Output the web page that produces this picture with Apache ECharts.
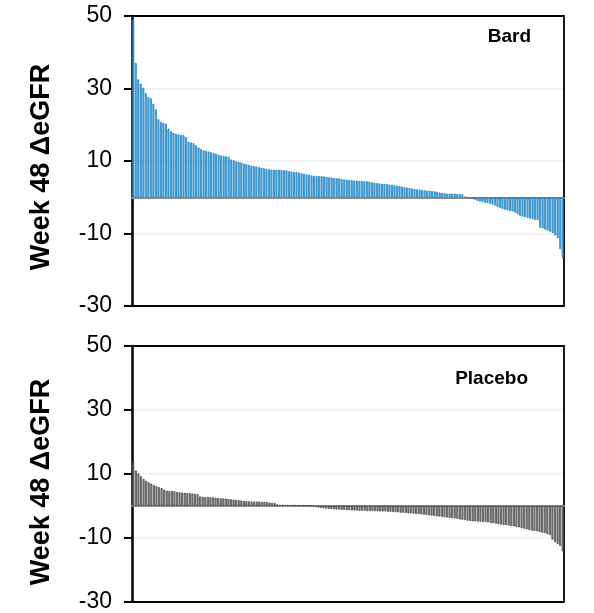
<!DOCTYPE html>
<html>
<head>
<meta charset="utf-8">
<script src="https://cdn.jsdelivr.net/npm/echarts@6/dist/echarts.min.js"></script>
<style>
  html, body { margin: 0; padding: 0; background: #fff; }
  #chart { width: 594px; height: 613px; }
</style>
</head>
<body>
<div id="chart"></div>
<script>
// Week 48 change in eGFR per patient, sorted from largest gain to largest loss
const bardValues = [
  49.0, 37.0, 32.5, 31.3, 30.2, 28.7, 27.6, 27.3, 25.8, 24.2,
  21.5, 20.8, 20.5, 20.2, 18.9, 18.2, 17.8, 17.5, 17.3, 17.2,
  17.1, 16.6, 15.3, 15.1, 14.9, 14.3, 13.7, 13.3, 12.9, 12.8,
  12.6, 12.4, 12.2, 12.0, 11.7, 11.5, 11.4, 11.3, 11.1, 10.4,
  10.2, 9.9, 9.7, 9.6, 9.3, 9.1, 8.9, 8.7, 8.6, 8.5,
  8.3, 8.1, 8.0, 7.8, 7.7, 7.6, 7.6, 7.6, 7.6, 7.5,
  7.5, 7.4, 7.2, 7.1, 7.0, 6.9, 6.8, 6.6, 6.5, 6.3,
  6.2, 6.0, 5.9, 5.9, 5.8, 5.8, 5.7, 5.6, 5.5, 5.4,
  5.3, 5.2, 5.2, 5.0, 4.9, 4.8, 4.7, 4.7, 4.6, 4.6,
  4.5, 4.5, 4.4, 4.4, 4.3, 4.1, 4.0, 3.9, 3.8, 3.7,
  3.7, 3.6, 3.5, 3.4, 3.3, 3.2, 3.1, 2.9, 2.8, 2.7,
  2.6, 2.4, 2.3, 2.2, 2.1, 2.0, 1.9, 1.8, 1.8, 1.7,
  1.6, 1.5, 1.3, 1.2, 1.1, 1.0, 1.0, 1.0, 1.0, 0.9,
  0.9, 0.8, 0.1, -0.1, -0.3, -0.5, -0.7, -1.0, -1.2, -1.3,
  -1.5, -1.6, -1.8, -2.0, -2.3, -2.6, -2.9, -3.2, -3.4, -3.6,
  -3.8, -3.9, -4.2, -4.7, -5.1, -5.3, -5.5, -5.7, -5.9, -6.0,
  -6.2, -6.3, -8.4, -8.6, -8.9, -9.2, -9.5, -9.9, -10.5, -11.3,
  -14.3, -16.8
];

const placeboValues = [
  13.8, 11.0, 10.1, 9.2, 8.4, 7.8, 7.3, 6.9, 6.4, 6.1,
  5.8, 5.5, 5.0, 4.7, 4.6, 4.6, 4.5, 4.3, 4.2, 4.1,
  4.0, 3.9, 3.9, 3.8, 3.7, 3.6, 2.9, 2.8, 2.7, 2.7,
  2.6, 2.6, 2.5, 2.4, 2.3, 2.3, 2.2, 2.1, 2.0, 1.9,
  1.8, 1.7, 1.6, 1.5, 1.4, 1.4, 1.3, 1.3, 1.3, 1.3,
  1.2, 1.2, 1.1, 1.0, 0.9, 0.8, 0.4, 0.3, 0.3, 0.2,
  0.2, 0.2, 0.2, 0.2, 0.1, 0.1, 0.1, 0.1, 0.1, 0.0,
  -0.2, -0.4, -0.6, -0.7, -0.8, -0.9, -1.0, -1.0, -1.1, -1.2,
  -1.2, -1.3, -1.3, -1.4, -1.4, -1.5, -1.5, -1.5, -1.6, -1.6,
  -1.6, -1.7, -1.7, -1.7, -1.7, -1.8, -1.8, -1.8, -1.8, -1.9,
  -1.9, -2.0, -2.0, -2.1, -2.2, -2.2, -2.3, -2.4, -2.4, -2.5,
  -2.6, -2.6, -2.7, -2.8, -2.9, -3.0, -3.1, -3.2, -3.3, -3.4,
  -3.5, -3.6, -3.7, -3.8, -3.9, -4.0, -4.1, -4.3, -4.4, -4.5,
  -4.7, -4.8, -4.9, -4.9, -5.0, -5.0, -5.1, -5.1, -5.2, -5.4,
  -5.5, -5.6, -5.8, -5.9, -6.0, -6.1, -6.2, -6.4, -6.5, -6.7,
  -6.8, -7.0, -7.2, -7.4, -7.6, -7.8, -7.9, -8.0, -8.2, -8.4,
  -8.6, -8.9, -9.2, -10.6, -11.4, -12.0, -12.6, -14.3
];

const bardPatients = bardValues.map((_, i) => 'B' + (i + 1));
const placeboPatients = placeboValues.map((_, i) => 'P' + (i + 1));

const panelNames = ['Bard', 'Placebo'];
const yTitle = 'Week 48 \u0394eGFR';
const yMin = -30, yMax = 50, yStep = 20;

const FONT = '"Liberation Sans", Arial, sans-serif';

const chart = echarts.init(document.getElementById('chart'), null, { renderer: 'canvas' });

const panels = [
  { top: 16, height: 290 },
  { top: 346, height: 260 }
];

const frameLine = { show: true, onZero: false, lineStyle: { color: '#000', width: 2 } };
const hidden = { axisTick: { show: false }, axisLabel: { show: false }, splitLine: { show: false } };

function axesFor(idx, cats) {
  return {
    x: [
      // zero baseline
      Object.assign({
        type: 'category', gridIndex: idx, data: cats,
        axisLine: { show: true, onZero: true, lineStyle: { color: '#8a8a8a', width: 2 } }
      }, hidden),
      // frame: bottom edge
      Object.assign({ type: 'category', gridIndex: idx, data: cats, position: 'bottom', axisLine: frameLine }, hidden),
      // frame: top edge
      Object.assign({ type: 'category', gridIndex: idx, data: cats, position: 'top', axisLine: frameLine }, hidden)
    ],
    y: [
      {
        type: 'value', gridIndex: idx, min: yMin, max: yMax, interval: yStep, position: 'left',
        axisLine: { show: true, onZero: false, lineStyle: { color: '#000', width: 2.5 } },
        axisTick: { show: true, inside: false, length: 8, lineStyle: { color: '#000', width: 2 } },
        axisLabel: { show: true, margin: 20, color: '#000', fontSize: 23, fontFamily: FONT },
        splitLine: { show: true, lineStyle: { color: '#efefef', width: 1.5 } }
      },
      // frame: right edge
      Object.assign({ type: 'value', gridIndex: idx, min: yMin, max: yMax, interval: yStep, position: 'right',
        axisLine: { show: true, onZero: false, lineStyle: { color: '#000', width: 1.8 } } }, hidden)
    ]
  };
}

const a0 = axesFor(0, bardPatients);
const a1 = axesFor(1, placeboPatients);

chart.setOption({
  animation: false,
  backgroundColor: '#fff',
  grid: panels.map(p => ({ left: 132, right: 30, top: p.top, height: p.height, show: false })),
  xAxis: a0.x.concat(a1.x),
  yAxis: a0.y.concat(a1.y),
  series: [
    {
      type: 'bar', xAxisIndex: 0, yAxisIndex: 0, data: bardValues,
      barCategoryGap: '25%', z: 1,
      itemStyle: { color: '#74b8e0', borderColor: '#0879bd', borderWidth: 0.7 }
    },
    {
      type: 'bar', xAxisIndex: 3, yAxisIndex: 2, data: placeboValues,
      barCategoryGap: '25%', z: 1,
      itemStyle: { color: '#9c9c9c', borderColor: '#3a3a3a', borderWidth: 0.7 }
    }
  ],
  graphic: [
    { type: 'text', x: 531, y: 37, style: { text: panelNames[0], font: 'bold 19px ' + FONT, fill: '#000', textAlign: 'right', textVerticalAlign: 'middle' } },
    { type: 'text', x: 528, y: 379, style: { text: panelNames[1], font: 'bold 19px ' + FONT, fill: '#000', textAlign: 'right', textVerticalAlign: 'middle' } },
    { type: 'text', x: 42, y: 167, rotation: Math.PI / 2, style: { text: yTitle, font: 'bold 27px ' + FONT, fill: '#000', textAlign: 'center', textVerticalAlign: 'middle' } },
    { type: 'text', x: 42, y: 482, rotation: Math.PI / 2, style: { text: yTitle, font: 'bold 27px ' + FONT, fill: '#000', textAlign: 'center', textVerticalAlign: 'middle' } }
  ]
});
</script>
</body>
</html>
